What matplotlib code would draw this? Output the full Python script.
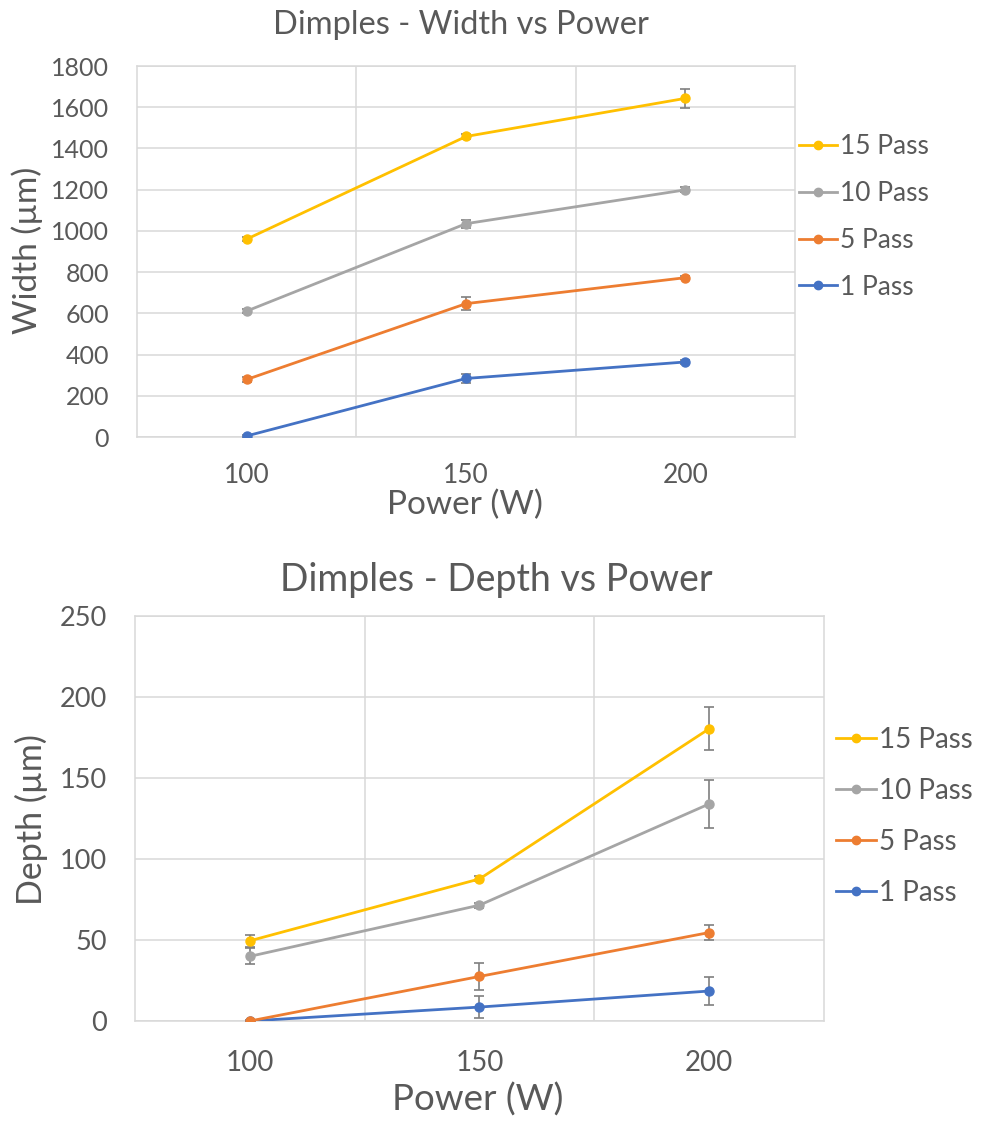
import matplotlib
matplotlib.use("Agg")
import matplotlib.pyplot as plt
from matplotlib.lines import Line2D

plt.rcParams['font.family'] = ['Lato', 'DejaVu Sans']

powers = ["100", "150", "200"]
series = ["15 Pass", "10 Pass", "5 Pass", "1 Pass"]
colors = ["#FFC000", "#A5A5A5", "#ED7D31", "#4472C4"]

width_vals = {
    "15 Pass": [960, 1458, 1643],
    "10 Pass": [611, 1035, 1199],
    "5 Pass": [279, 647, 773],
    "1 Pass": [5, 284, 364],
}
width_err = {
    "15 Pass": [8, 12, 45],
    "10 Pass": [10, 19, 12],
    "5 Pass": [12, 33, 8],
    "1 Pass": [5, 24, 8],
}
depth_vals = {
    "15 Pass": [49.5, 87.7, 180.4],
    "10 Pass": [39.9, 71.5, 134.0],
    "5 Pass": [0.0, 27.5, 54.6],
    "1 Pass": [0.0, 8.6, 18.5],
}
depth_err = {
    "15 Pass": [3.7, 1.5, 13.4],
    "10 Pass": [5.0, 1.5, 14.7],
    "5 Pass": [0.5, 8.2, 4.7],
    "1 Pass": [0.3, 6.6, 8.9],
}

TXT = "#595959"
GRID = "#D9D9D9"
ERR = "#7F7F7F"

W, H = 995, 1121
fig = plt.figure(figsize=(W / 100, H / 100), dpi=100)


def px_axes(l, t, r, b):
    return fig.add_axes([l / W, 1 - b / H, (r - l) / W, (b - t) / H])


def draw(ax, vals, errs, ymax, ystep, ytick_fs, xtick_fs, xpad, ypad):
    x = list(range(len(powers)))
    for s, c in zip(series[::-1], colors[::-1]):
        ax.errorbar(x, vals[s], yerr=errs[s], color=c, lw=2.0, marker='o',
                    ms=6.5, ecolor=ERR, elinewidth=1.2, capsize=3.5,
                    capthick=1.2, zorder=3)
    ax.set_xlim(-0.5, len(powers) - 0.5)
    ax.set_ylim(0, ymax)
    ax.set_xticks(x)
    ax.set_xticklabels(powers)
    ax.set_yticks(range(0, ymax + 1, ystep))
    ax.set_xticks([i + 0.5 for i in range(len(powers) - 1)], minor=True)
    ax.grid(True, axis='y', which='major', color=GRID, lw=1.1, zorder=0)
    ax.grid(True, axis='x', which='minor', color=GRID, lw=1.1, zorder=0)
    ax.tick_params(axis='both', which='both', length=0, colors=TXT)
    ax.tick_params(axis='x', pad=xpad, labelsize=xtick_fs)
    ax.tick_params(axis='y', pad=ypad, labelsize=ytick_fs)
    for sp in ax.spines.values():
        sp.set_color(GRID)
        sp.set_linewidth(1.1)


def legend(x, y, fs, spacing, hl):
    handles = [Line2D([0], [0], color=c, lw=2.0, marker='o', ms=6)
               for c in colors]
    fig.legend(handles, series, loc='upper left',
               bbox_to_anchor=(x / W, 1 - y / H), frameon=False,
               fontsize=fs, labelcolor=TXT, handlelength=hl,
               handletextpad=0.1, labelspacing=spacing, borderaxespad=0,
               borderpad=0)


# top chart
ax1 = px_axes(137, 66, 795, 437)
draw(ax1, width_vals, width_err, 1800, 200, 18, 19, 19, 20)
fig.text(461 / W, 1 - 25 / H, "Dimples - Width vs Power", ha='center',
         va='center', fontsize=23.5, color=TXT)
fig.text(465 / W, 1 - 505 / H, "Power (W)", ha='center', va='center',
         fontsize=24, color=TXT)
fig.text(27 / W, 1 - 250 / H, "Width (µm)", ha='center', va='center',
         rotation=90, fontsize=24, color=TXT)
legend(799, 134, 19, 0.83, 1.45)

# bottom chart
ax2 = px_axes(135, 616, 824, 1021)
draw(ax2, depth_vals, depth_err, 250, 50, 19.5, 20, 21, 20)
fig.text(496 / W, 1 - 580 / H, "Dimples - Depth vs Power", ha='center',
         va='center', fontsize=27, color=TXT)
fig.text(478 / W, 1 - 1100 / H, "Power (W)", ha='center', va='center',
         fontsize=26.5, color=TXT)
fig.text(31 / W, 1 - 820 / H, "Depth (µm)", ha='center', va='center',
         rotation=90, fontsize=24.5, color=TXT)
legend(836, 727, 20, 0.9, 1.45)

fig.savefig("out.png", dpi=100, facecolor='white')
